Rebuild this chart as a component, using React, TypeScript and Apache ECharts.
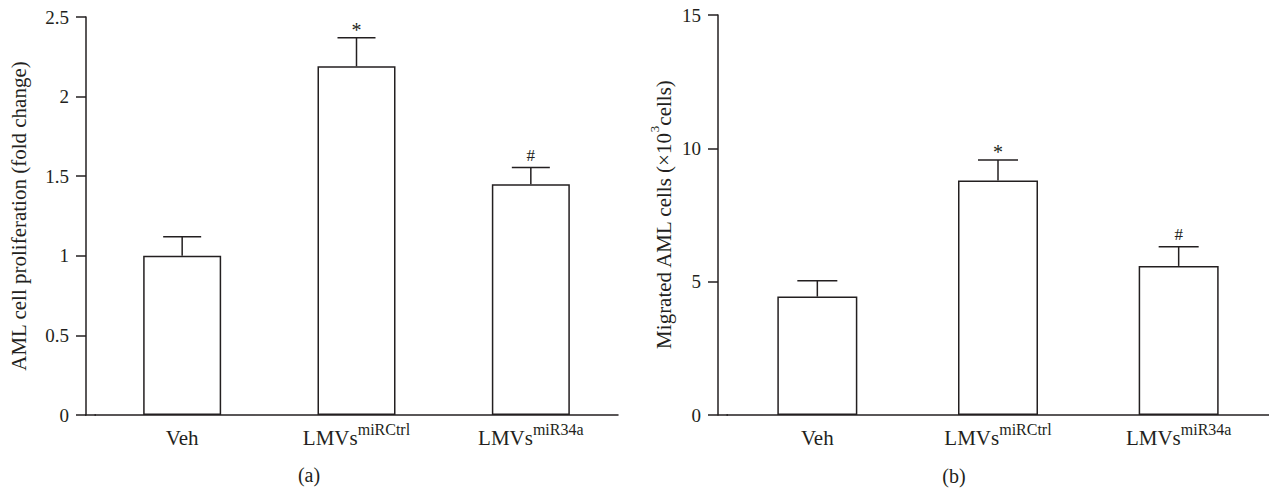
import React, { useEffect, useRef } from "react";
import * as echarts from "echarts";

const categories = ["Veh", "LMVs miRCtrl", "LMVs miR34a"];
const catBase = ["Veh", "LMVs", "LMVs"];
const catSup = ["", "miRCtrl", "miR34a"];

const proliferation = [1.0, 2.19, 1.45];
const proliferationErr = [0.12, 0.18, 0.105];
const proliferationTicks = { min: 0, max: 2.5, interval: 0.5 };

const migration = [4.44, 8.79, 5.59];
const migrationErr = [0.59, 0.77, 0.72];
const migrationTicks = { min: 0, max: 15, interval: 5 };

const marks = ["", "*", "#"];

const FONT = "'Liberation Serif', 'Times New Roman', serif";
const INK = "#231f20";

function catFormatter(_v: string, idx: number) {
  if (!catSup[idx]) return `{b|${catBase[idx]}}`;
  return `{b|${catBase[idx]}}{s|${catSup[idx]}}`;
}

const catRich = {
  b: { fontFamily: FONT, fontSize: 21, color: INK, verticalAlign: "bottom", lineHeight: 27 },
  s: { fontFamily: FONT, fontSize: 16, color: INK, verticalAlign: "top", lineHeight: 15 },
};

function errorSeries(idx: number, values: number[], errs: number[], capHalf: number) {
  return {
    type: "custom",
    xAxisIndex: idx,
    yAxisIndex: idx,
    z: 5,
    encode: { x: 0, y: 1 },
    data: values.map((v, i) => [i, v, errs[i]]),
    renderItem: (params: any, api: any) => {
      const i = api.value(0);
      const v = api.value(1);
      const e = api.value(2);
      const base = api.coord([i, v]);
      const top = api.coord([i, v + e]);
      const st = { stroke: INK, lineWidth: 1.5 };
      const children: any[] = [
        { type: "line", shape: { x1: base[0], y1: base[1], x2: top[0], y2: top[1] }, style: st },
        { type: "line", shape: { x1: top[0] - capHalf, y1: top[1], x2: top[0] + capHalf, y2: top[1] }, style: st },
      ];
      const m = marks[params.dataIndex];
      if (m) {
        const star = m === "*";
        children.push({
          type: "text",
          style: {
            text: m,
            x: top[0],
            y: top[1] - (star ? 8 : 12),
            align: "center",
            verticalAlign: "middle",
            font: `${star ? 20 : 17}px ${FONT}`,
            fill: INK,
          },
        });
      }
      return { type: "group", children };
    },
  };
}

function barSeries(idx: number, values: number[], width: number) {
  return {
    type: "bar",
    xAxisIndex: idx,
    yAxisIndex: idx,
    barWidth: width,
    data: values,
    itemStyle: { color: "#ffffff", borderColor: INK, borderWidth: 1.5 },
    z: 3,
  };
}

function xAxis(gridIndex: number) {
  return {
    type: "category",
    gridIndex,
    data: categories,
    axisLine: { lineStyle: { color: INK, width: 1.5 } },
    axisTick: { show: false },
    axisLabel: { formatter: catFormatter, rich: catRich, margin: 6, interval: 0 },
  };
}

function yAxis(gridIndex: number, t: any, name: string, rich: any, nameGap: number) {
  return {
    type: "value",
    gridIndex,
    min: t.min,
    max: t.max,
    interval: t.interval,
    offset: 9,
    name,
    nameLocation: "middle",
    nameGap,
    nameRotate: 90,
    nameTextStyle: { fontFamily: FONT, fontSize: 21, color: INK, rich },
    splitLine: { show: false },
    axisLine: { show: true, lineStyle: { color: INK, width: 1.5 } },
    axisTick: { show: true, length: 10, lineStyle: { color: INK, width: 1.5 } },
    axisLabel: { fontFamily: FONT, fontSize: 19, color: INK, margin: 17 },
  };
}

export default function App() {
  const ref = useRef<HTMLDivElement>(null);
  useEffect(() => {
    const chart = echarts.init(ref.current!, null, { renderer: "svg" });
    const nameRich = {
      t: { fontFamily: FONT, fontSize: 21, color: INK, verticalAlign: "bottom", lineHeight: 26 },
      s: { fontFamily: FONT, fontSize: 13, color: INK, verticalAlign: "top", lineHeight: 13 },
    };
    chart.setOption({
      animation: false,
      backgroundColor: "#ffffff",
      grid: [
        { left: 95, width: 523, top: 17, bottom: 73 },
        { left: 727, right: 0, top: 15, bottom: 73 },
      ],
      xAxis: [xAxis(0), xAxis(1)],
      yAxis: [
        yAxis(0, proliferationTicks, "AML cell proliferation (fold change)", undefined, 57),
        yAxis(1, migrationTicks, "{t|Migrated AML cells (×10}{s|3}{t|cells)}", nameRich, 44),
      ],
      series: [
        barSeries(0, proliferation, 78),
        errorSeries(0, proliferation, proliferationErr, 19),
        barSeries(1, migration, 80),
        errorSeries(1, migration, migrationErr, 20),
      ],
      graphic: [
        { type: "line", shape: { x1: 85, y1: 415, x2: 96, y2: 415 }, style: { stroke: INK, lineWidth: 1.5 } },
        { type: "line", shape: { x1: 718, y1: 415, x2: 728, y2: 415 }, style: { stroke: INK, lineWidth: 1.5 } },
        { type: "text", x: 309, y: 475, style: { text: "(a)", font: `20px ${FONT}`, fill: INK, align: "center", verticalAlign: "middle" } },
        { type: "text", x: 954, y: 476, style: { text: "(b)", font: `20px ${FONT}`, fill: INK, align: "center", verticalAlign: "middle" } },
      ],
    });
    return () => chart.dispose();
  }, []);
  return (
    <div
      ref={ref}
      style={{ position: "fixed", left: 0, top: 0, width: 1269, height: 488, background: "#fff" }}
    />
  );
}
